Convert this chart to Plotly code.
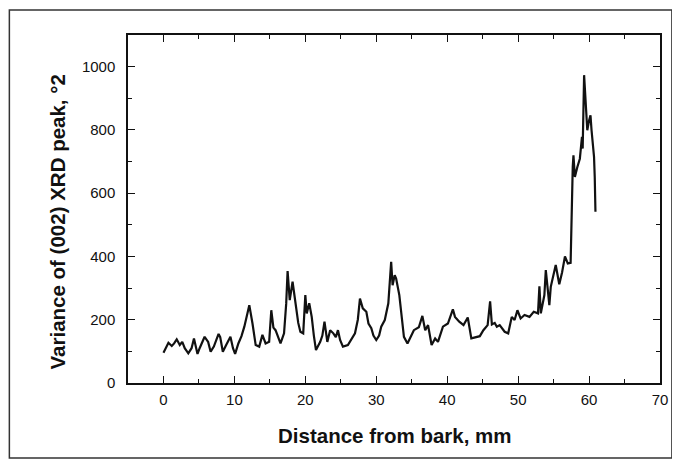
import plotly.graph_objects as go

# Distance from bark (mm) and variance of (002) XRD peak
distance_mm = [
    0.0, 0.35, 0.7, 1.17, 1.5, 1.87, 2.3, 2.65, 3.0, 3.5, 3.96, 4.3, 4.8, 5.1, 5.8, 6.3, 6.65, 7.1,
    7.77, 8.0, 8.37, 8.84, 9.44, 9.8, 10.1, 10.56, 11.0, 11.4, 11.8, 12.1, 12.55, 13.0, 13.5, 13.95,
    14.4, 14.9, 15.2, 15.5, 15.8, 16.1, 16.5, 17.0, 17.3, 17.5, 17.8, 18.2, 18.6, 19.0, 19.3, 19.7,
    20.0, 20.2, 20.55, 20.9, 21.2, 21.5, 22.1, 22.4, 22.7, 23.1, 23.5, 23.95, 24.3, 24.6, 24.9, 25.3,
    26.0, 26.5, 27.0, 27.4, 27.7, 28.1, 28.6, 28.9, 29.3, 29.6, 30.0, 30.4, 30.7, 31.2, 31.7, 32.1,
    32.3, 32.6, 32.8, 33.25, 33.6, 33.9, 34.4, 34.9, 35.3, 36.0, 36.5, 36.9, 37.3, 37.8, 38.3, 38.7,
    39.4, 40.1, 40.8, 41.1, 41.7, 42.3, 42.9, 43.4, 44.0, 44.6, 45.1, 45.7, 46.05, 46.3, 46.7, 47.0,
    47.4, 48.1, 48.6, 49.1, 49.5, 49.9, 50.35, 50.9, 51.6, 52.2, 52.8, 53.0, 53.2, 53.7, 53.9, 54.4,
    54.6, 55.0, 55.3, 55.8, 56.2, 56.6, 57.0, 57.4, 57.5, 57.7, 57.8, 58.0, 58.35, 58.7, 59.0, 59.1,
    59.3, 59.5, 59.75, 60.0, 60.2, 60.35, 60.7, 60.8, 60.9,
]
variance = [
    96, 110, 127, 117, 125, 138, 120, 130, 110, 94, 110, 141, 92, 110, 146, 130, 99, 115,
    155, 145, 99, 120, 146, 110, 92, 125, 148, 178, 215, 246, 188, 120, 115, 152,
    125, 130, 230, 175, 167, 150, 125, 157, 250, 354, 262, 320, 262, 190, 162, 157,
    278, 220, 252, 209, 150, 104, 130, 150, 194, 130, 167, 157, 145, 167, 136, 115,
    120, 140, 157, 200, 267, 236, 225, 188, 173, 150, 136, 150, 178, 199, 252, 383,
    309, 341, 330, 278, 199, 146, 125, 146, 167, 176, 212, 167, 183, 120, 141, 130,
    178, 188, 233, 209, 194, 183, 207, 141, 144, 148, 167, 183, 258, 185, 190, 178,
    183, 162, 157, 209, 199, 230, 204, 215, 209, 225, 220, 306, 220, 278, 357, 246,
    304, 346, 373, 312, 350, 400, 378, 380, 504, 683, 720, 651, 683, 709, 778, 741,
    973, 883, 799, 830, 846, 799, 715, 651, 541,
]

x_ticks = [0, 10, 20, 30, 40, 50, 60, 70]
y_ticks = [0, 200, 400, 600, 800, 1000]

x_title = "Distance from bark, mm"
y_title = "Variance of (002) XRD peak, °2"

FONT = "Liberation Sans, Arial, sans-serif"

fig = go.Figure()
fig.add_trace(go.Scatter(
    x=distance_mm, y=variance, mode="lines",
    line=dict(color="#111111", width=2.2),
    showlegend=False, hoverinfo="skip",
))

axis_common = dict(
    showgrid=False, zeroline=False, showline=True, linecolor="#111111", linewidth=1.5,
    mirror="allticks", ticks="inside", ticklen=7, tickwidth=1.3, tickcolor="#111111",
    tickfont=dict(family=FONT, size=15, color="#111111"),
)

# page body has an 8px margin; figure is sized so the plot sits where the reference has it
fig.update_layout(
    width=672, height=455,
    margin=dict(l=120, r=17, t=27, b=80),
    paper_bgcolor="white", plot_bgcolor="white",
    xaxis=dict(range=[-5, 70], tickvals=x_ticks, ticktext=[str(v) for v in x_ticks],
               minor=dict(dtick=5, tick0=0, ticks="inside", ticklen=4, tickcolor="#111111"),
               ticklabelstandoff=2, **axis_common),
    yaxis=dict(range=[0, 1100], tickvals=y_ticks, ticktext=[str(v) for v in y_ticks],
               minor=dict(dtick=100, tick0=0, ticks="inside", ticklen=4, tickcolor="#111111"),
               ticklabelstandoff=8, **axis_common),
    annotations=[
        dict(text=f"<b>{x_title}</b>", xref="paper", yref="paper", x=0.501, y=-0.152,
             showarrow=False, xanchor="center", yanchor="middle",
             font=dict(family=FONT, size=20.5, color="#111111")),
        dict(text=f"<b>{y_title}</b>", xref="paper", yref="paper", x=-0.133, y=0.462,
             showarrow=False, xanchor="center", yanchor="middle", textangle=-90,
             font=dict(family=FONT, size=20.5, color="#111111")),
    ],
    shapes=[
        dict(type="rect", xref="paper", yref="paper", x0=-0.223, x1=1.0224, y0=-0.2155, y1=1.0718,
             line=dict(color="#333333", width=1.5), fillcolor="rgba(0,0,0,0)", layer="below"),
    ],
)

fig.write_html("out.html")
